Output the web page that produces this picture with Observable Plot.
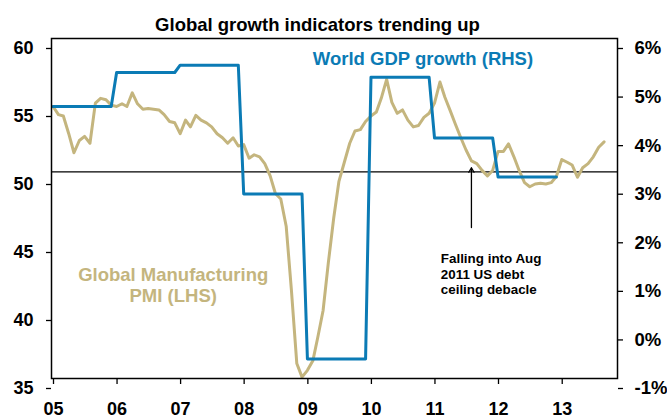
<!DOCTYPE html>
<html>
<head>
<meta charset="utf-8">
<script src="https://cdn.jsdelivr.net/npm/d3@7"></script>
<script src="https://cdn.jsdelivr.net/npm/@observablehq/plot@0.6"></script>
<style>
  html, body { margin: 0; padding: 0; background: #ffffff; }
  #chart { width: 667px; height: 419px; }
</style>
</head>
<body>
<div id="chart"></div>
<script>
// ---------- DATA ----------
const title = "Global growth indicators trending up";

// Global Manufacturing PMI (LHS), monthly from Jan 2005
const pmiStartYear = 2005;
const pmiValues = [
  55.0, 54.4, 54.3, 53.0, 51.6, 52.5, 52.8, 52.3, 55.25, 55.6, 55.5, 55.1,   // 2005
  55.0, 55.2, 55.0, 56.0, 55.2, 54.8, 54.85, 54.8, 54.75, 54.4, 53.9, 53.8,  // 2006
  53.0, 54.0, 53.5, 54.35, 54.0, 53.8, 53.5, 53.0, 52.7, 52.3, 52.7, 52.1,   // 2007
  52.2, 51.2, 51.45, 51.3, 50.8, 49.9, 48.6, 48.2, 46.2, 41.5, 36.1, 35.1,   // 2008
  35.6, 36.3, 38.0, 40.0, 43.5, 46.8, 49.5, 50.9, 52.3, 53.2, 53.3, 53.9,    // 2009
  54.3, 54.6, 55.6, 57.0, 55.3, 54.5, 54.75, 54.0, 53.5, 53.6, 54.2, 54.5,   // 2010
  55.25, 56.8, 55.7, 54.7, 53.7, 52.7, 51.8, 51.0, 50.8, 50.3, 49.9, 50.3,   // 2011
  51.7, 51.7, 52.25, 51.3, 50.3, 49.4, 49.1, 49.3, 49.35, 49.3, 49.4, 49.85, // 2012
  51.1, 50.9, 50.7, 49.8, 50.5, 50.8, 51.3, 52.0, 52.4                       // 2013
];

// World GDP growth (RHS), annual %, held through each year
const gdpYears  = [2005, 2006, 2007, 2008, 2009, 2010, 2011, 2012];
const gdpValues = [4.6, 5.3, 5.45, 2.8, -0.6, 5.2, 3.95, 3.15];

// Axes
const xTickYears  = [2005, 2006, 2007, 2008, 2009, 2010, 2011, 2012, 2013];
const xTickLabels = ["05", "06", "07", "08", "09", "10", "11", "12", "13"];
const pmiTicks    = [35, 40, 45, 50, 55, 60];
const gdpTicks    = [-1, 0, 1, 2, 3, 4, 5, 6];
const gdpTickLabels = ["-1%", "0%", "1%", "2%", "3%", "4%", "5%", "6%"];
const pmiDomain = [35, 60];
const gdpDomain = [-1, 6];
const refLine = [50.2];

// Labels / annotation
const gdpLabel = "World GDP growth (RHS)";
const pmiLabel = "Global Manufacturing\nPMI (LHS)";
const noteText = "Falling into Aug\n2011 US debt\nceiling debacle";
const noteDate = [2011, 7];        // Aug 2011
const arrowFrom = 46.1, arrowTo = 50.5;

// ---------- BUILD ----------
const blue = "#0B7BB5";
const tan = "#C4B57E";

const dateOf = (y, m) => new Date(Date.UTC(y, m, 10));
const pmiData = pmiValues.map((v, i) => ({
  date: dateOf(pmiStartYear + Math.floor(i / 12), i % 12),
  value: v
}));
const gdpData = [];
gdpYears.forEach((y, i) => {
  gdpData.push({date: dateOf(y, 0), value: gdpValues[i]});
  gdpData.push({date: dateOf(y, 11), value: gdpValues[i]});
});
const toLeft = g => pmiDomain[0] + (g - gdpDomain[0]) * (pmiDomain[1] - pmiDomain[0]) / (gdpDomain[1] - gdpDomain[0]);
const fromLeft = v => gdpDomain[0] + (v - pmiDomain[0]) * (gdpDomain[1] - gdpDomain[0]) / (pmiDomain[1] - pmiDomain[0]);

const font = "'Liberation Sans', Arial, sans-serif";

const chart = Plot.plot({
  width: 667,
  height: 419,
  marginTop: 38,
  marginBottom: 41,
  marginLeft: 51,
  marginRight: 50,
  style: {fontFamily: font, fontWeight: "bold", fontSize: "18px", color: "#000", background: "#fff"},
  x: {type: "utc", domain: [new Date(Date.UTC(2005, 0, 1)), new Date(Date.UTC(2013, 10, 26))]},
  y: {domain: pmiDomain},
  marks: [
    Plot.ruleY(refLine, {stroke: "#000", strokeWidth: 1.3}),
    Plot.line(pmiData, {x: "date", y: "value", stroke: tan, strokeWidth: 3}),
    Plot.line(gdpData, {x: "date", y: d => toLeft(d.value), stroke: blue, strokeWidth: 3}),
    Plot.frame({stroke: "#000", strokeWidth: 1.5}),
    Plot.axisX({
      ticks: xTickYears.map(y => new Date(Date.UTC(y, 0, 1))),
      tickFormat: d => xTickLabels[xTickYears.indexOf(d.getUTCFullYear())],
      tickSize: 6, tickPadding: 18, dx: 2, label: null, stroke: "#000", strokeWidth: 1.3,
      fontSize: 18, fontWeight: "bold"
    }),
    Plot.axisY({
      anchor: "left", ticks: pmiTicks, tickFormat: d => String(d),
      tickSize: 5, tickPadding: 13, dy: 10, label: null, stroke: "#000", strokeWidth: 1.3,
      fontSize: 18, fontWeight: "bold"
    }),
    Plot.axisY({
      anchor: "right", ticks: gdpTicks.map(toLeft),
      tickFormat: v => gdpTickLabels[gdpTicks.indexOf(Math.round(fromLeft(v)))],
      tickSize: 5, tickPadding: 12, dy: 10, label: null, stroke: "#000", strokeWidth: 1.3,
      fontSize: 18.5, fontWeight: "bold"
    }),
    Plot.text([title], {frameAnchor: "top", dy: -13, dx: -17, fontSize: 18.5, fontWeight: "bold", fill: "#000", lineAnchor: "middle"}),
    Plot.text([gdpLabel], {x: () => new Date(Date.UTC(2009, 1, 10)), y: () => 58.5, textAnchor: "start", fontSize: 18.5, fontWeight: "bold", fill: blue}),
    Plot.text([pmiLabel], {x: () => new Date(Date.UTC(2006, 11, 1)), y: () => 41.9, textAnchor: "middle", fontSize: 18.5, fontWeight: "bold", fill: tan, lineHeight: 1.15}),
    Plot.text([noteText], {x: () => new Date(Date.UTC(2011, 1, 15)), y: () => 42.7, textAnchor: "start", fontSize: 13.4, fontWeight: "bold", fill: "#000", lineHeight: 1.17}),
    Plot.arrow([noteDate], {
      x1: d => dateOf(d[0], d[1]), x2: d => dateOf(d[0], d[1]),
      y1: () => arrowFrom, y2: () => arrowTo,
      stroke: "#000", strokeWidth: 1.3, headLength: 6
    })
  ]
});
document.getElementById("chart").appendChild(chart);
</script>
</body>
</html>
